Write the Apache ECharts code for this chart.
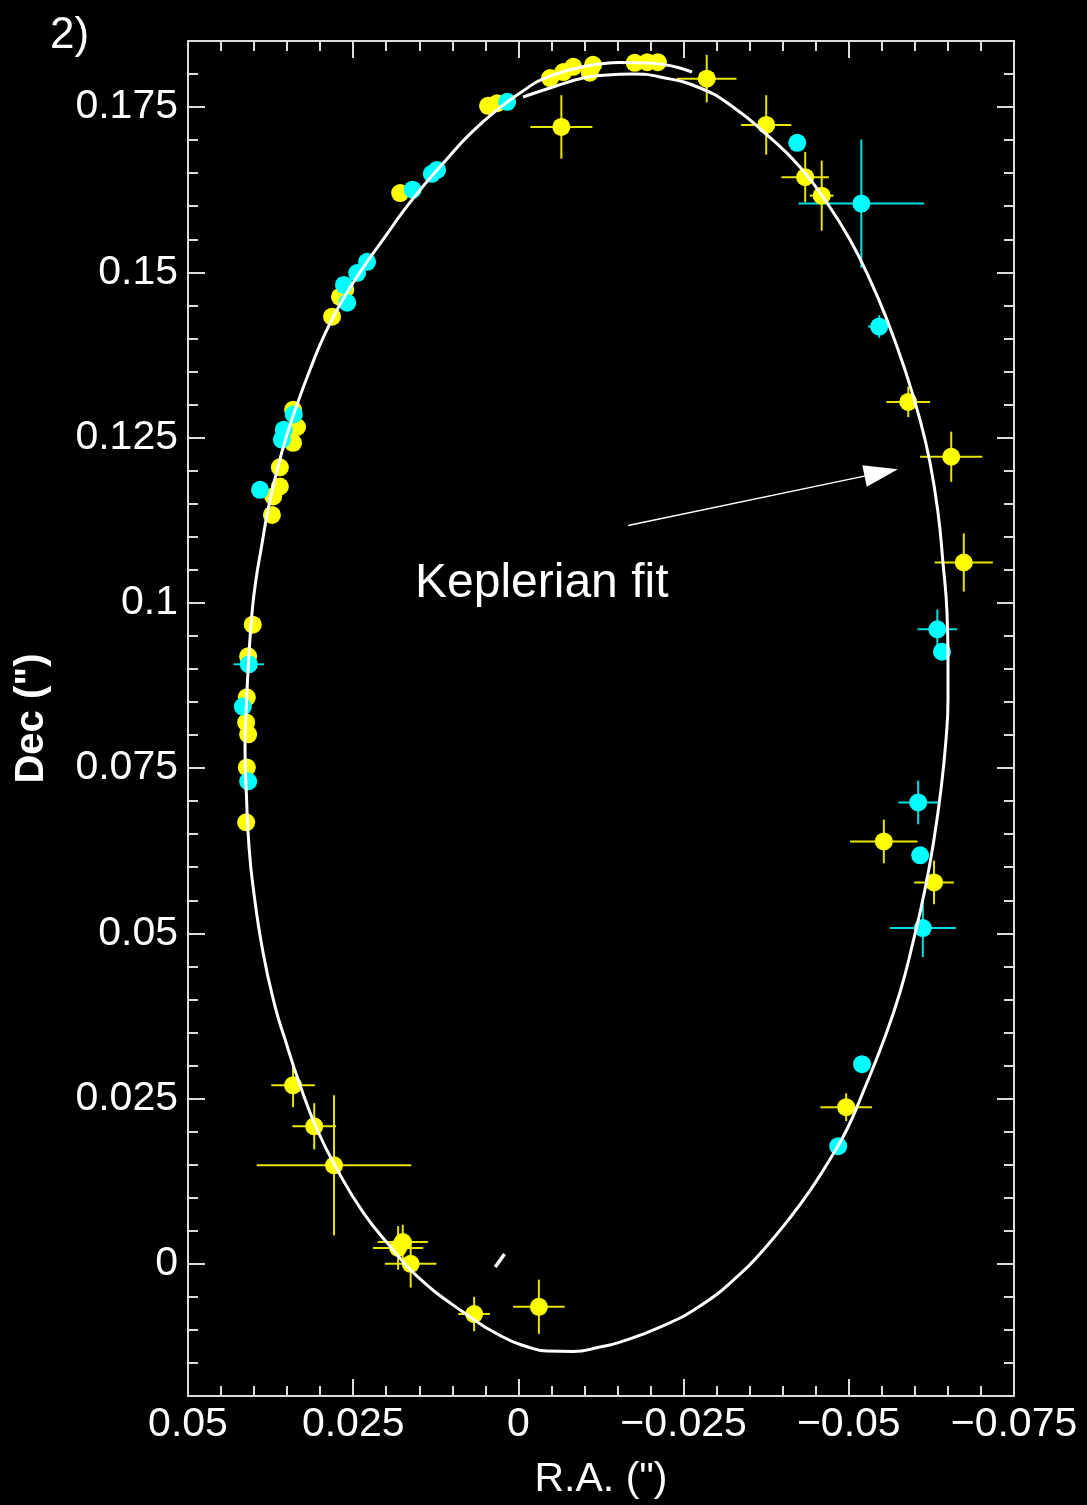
<!DOCTYPE html>
<html>
<head>
<meta charset="utf-8">
<script src="https://cdn.jsdelivr.net/npm/echarts@6/dist/echarts.min.js"></script>
<style>
  html, body { margin: 0; padding: 0; background: #000; }
  #chart { width: 1087px; height: 1505px; }
</style>
</head>
<body>
<div id="chart"></div>
<script>
// ---- axis ticks (arcsec) ----
const raTickValues  = [0.05, 0.025, 0, -0.025, -0.05, -0.075];
const raTickLabels  = ['0.05', '0.025', '0', '\u22120.025', '\u22120.05', '\u22120.075'];
const decTickValues = [0, 0.025, 0.05, 0.075, 0.1, 0.125, 0.15, 0.175];
const decTickLabels = ['0', '0.025', '0.05', '0.075', '0.1', '0.125', '0.15', '0.175'];

// ---- yellow epochs: position and 1-sigma errors (0 = no bar drawn) ----
const yellowRA = [
  -0.0285, -0.0065, -0.0375, -0.0434, -0.0459, -0.0590, -0.0655, -0.0674, -0.0553, -0.0629,
  -0.0496, 0.0341, 0.0309, 0.0279, 0.0175, 0.0182, 0.0163, 0.0067, -0.0031,
  0.0046, 0.0032, -0.0048, -0.0068, -0.0083, -0.0113, -0.0108, -0.0176, -0.0195, -0.0211,
  0.0179, 0.0262, 0.0270, 0.0282, 0.0341, 0.0335, 0.0341, 0.0361, 0.0361, 0.0371, 0.0373,
  0.0402, 0.0409, 0.0411, 0.0412, 0.0409, 0.0411, 0.0412
];
const yellowDec = [
  0.1793, 0.1720, 0.1723, 0.1644, 0.1616, 0.1304, 0.1221, 0.1061, 0.0639, 0.0577,
  0.0237, 0.0270, 0.0208, 0.0149, 0.0033, 0.0024, 0.0000, -0.0076, -0.0065,
  0.1752, 0.1756, 0.1794, 0.1803, 0.1811, 0.1814, 0.1802, 0.1817, 0.1818, 0.1818,
  0.1620, 0.1474, 0.1463, 0.1433, 0.1292, 0.1266, 0.1242, 0.1205, 0.1176, 0.1161, 0.1133,
  0.0967, 0.0919, 0.0857, 0.0819, 0.0801, 0.0751, 0.0668
];
const yellowRAErr = [
  0.0045, 0.0047, 0.0038, 0.0036, 0.0018, 0.0033, 0.0047, 0.0044, 0.0051, 0.0030,
  0.0039, 0.0033, 0.0033, 0.0117, 0.0038, 0.0038, 0.0039, 0.0024, 0.0039,
  0, 0, 0, 0, 0, 0, 0, 0, 0, 0,
  0, 0, 0, 0, 0, 0, 0, 0, 0, 0, 0,
  0, 0, 0, 0, 0, 0, 0
];
const yellowDecErr = [
  0.0036, 0.0048, 0.0045, 0.0038, 0.0053, 0.0023, 0.0038, 0.0044, 0.0033, 0.0033,
  0.0021, 0.0033, 0.0035, 0.0106, 0.0026, 0.0033, 0.0036, 0.0026, 0.0041,
  0, 0, 0, 0, 0, 0, 0, 0, 0, 0,
  0, 0, 0, 0, 0, 0, 0, 0, 0, 0, 0,
  0, 0, 0, 0, 0, 0, 0
];

// ---- cyan epochs ----
const cyanRA = [
  -0.0519, -0.0546, -0.0634, -0.0605, -0.0612, 0.0408, -0.0520, -0.0484,
  -0.0422, -0.0641, -0.0608, 0.0017, 0.0160, 0.0131, 0.0123, 0.0229, 0.0244, 0.0264, 0.0259,
  0.0340, 0.0355, 0.0358, 0.0391, 0.0417, 0.0409
];
const cyanDec = [
  0.1604, 0.1418, 0.0960, 0.0698, 0.0508, 0.0907, 0.0302, 0.0178,
  0.1696, 0.0926, 0.0618, 0.1758, 0.1625, 0.1649, 0.1655, 0.1516, 0.1499, 0.1481, 0.1454,
  0.1285, 0.1262, 0.1247, 0.1171, 0.0843, 0.0730
];
const cyanRAErr = [
  0.0095, 0.0017, 0.0030, 0.0030, 0.0050, 0.0023, 0.0008, 0.0008,
  0, 0, 0, 0, 0, 0, 0, 0, 0, 0, 0,
  0, 0, 0, 0, 0, 0
];
const cyanDecErr = [
  0.0097, 0.0017, 0.0030, 0.0033, 0.0044, 0.0008, 0.0008, 0.0008,
  0, 0, 0, 0, 0, 0, 0, 0, 0, 0, 0,
  0, 0, 0, 0, 0, 0
];

// ---- Keplerian orbit curve (traced clockwise, slightly more than one revolution) ----
const fitRA = [
  -0.00070, -0.00478, -0.00978, -0.01341, -0.01734, -0.02143, -0.02748, -0.03248, -0.03762, -0.04261,
  -0.04670, -0.05018, -0.05321, -0.05578, -0.05850, -0.06077, -0.06229, -0.06350, -0.06425, -0.06486,
  -0.06501, -0.06501, -0.06471, -0.06395, -0.06289, -0.06153, -0.05971, -0.05775, -0.05517, -0.05215,
  -0.04973, -0.04716, -0.04428, -0.04095, -0.03717, -0.03353, -0.02748, -0.02143, -0.01538, -0.01235,
  -0.00826, -0.00433, -0.00100, 0.00233, 0.00838, 0.01535, 0.01943, 0.02352, 0.02745, 0.03048,
  0.03320, 0.03532, 0.03683, 0.03865, 0.04016, 0.04077, 0.04115, 0.04137, 0.04122, 0.04084,
  0.04031, 0.03971, 0.03895, 0.03789, 0.03668, 0.03517, 0.03351, 0.03154, 0.02942, 0.02685,
  0.02352, 0.02019, 0.01716, 0.01413, 0.01081, 0.00732, 0.00324, -0.00070, -0.00372, -0.00887,
  -0.01235, -0.01538, -0.01991, -0.02627
];
const fitDec = [
  0.17653, 0.17789, 0.17941, 0.17986, 0.18001, 0.17956, 0.17789, 0.17502, 0.17079, 0.16595,
  0.16051, 0.15492, 0.14887, 0.14282, 0.13526, 0.12770, 0.12120, 0.11364, 0.10608, 0.09853,
  0.09142, 0.08537, 0.07932, 0.07177, 0.06421, 0.05665, 0.04864, 0.04108, 0.03352, 0.02596,
  0.02036, 0.01583, 0.01129, 0.00676, 0.00222, -0.00156, -0.00639, -0.00957, -0.01184, -0.01259,
  -0.01327, -0.01320, -0.01244, -0.01108, -0.00730, -0.00186, 0.00268, 0.00782, 0.01432, 0.02036,
  0.02747, 0.03397, 0.03896, 0.04712, 0.05710, 0.06315, 0.07071, 0.07827, 0.08341, 0.09097,
  0.09853, 0.10351, 0.10805, 0.11410, 0.11939, 0.12498, 0.12997, 0.13526, 0.14040, 0.14539,
  0.15068, 0.15537, 0.15960, 0.16338, 0.16716, 0.17094, 0.17457, 0.17744, 0.17926, 0.18092,
  0.18152, 0.18175, 0.18167, 0.18031
];

// short white marker near the origin
const markRA  = [0.0035, 0.0021];
const markDec = [-0.0005, 0.0015];

// annotation arrow (tail, head)
const arrowRA  = [-0.0166, -0.0549];
const arrowDec = [0.1117, 0.1197];

// ---- helpers ----
const FONT = "'Liberation Sans', Arial, Helvetica, sans-serif";
const AXIS_COLOR = '#dcdcdc';

function zip(a, b, c, d) {
  return a.map((v, i) => c ? [v, b[i], c[i], d[i]] : [v, b[i]]);
}
function labelFor(values, labels) {
  return function (v) {
    for (let i = 0; i < values.length; i++) {
      if (Math.abs(values[i] - v) < 1e-9) return labels[i];
    }
    return '';
  };
}
function errorBars(color) {
  return function (params, api) {
    const x = api.value(0), y = api.value(1), ex = api.value(2), ey = api.value(3);
    const children = [];
    if (ex > 0) {
      const a = api.coord([x - ex, y]), b = api.coord([x + ex, y]);
      children.push({ type: 'line', shape: { x1: a[0], y1: a[1], x2: b[0], y2: b[1] },
        style: { stroke: color, lineWidth: 2 } });
    }
    if (ey > 0) {
      const a = api.coord([x, y - ey]), b = api.coord([x, y + ey]);
      children.push({ type: 'line', shape: { x1: a[0], y1: a[1], x2: b[0], y2: b[1] },
        style: { stroke: color, lineWidth: 2 } });
    }
    return { type: 'group', children: children };
  };
}

const tickLine = { color: AXIS_COLOR, width: 2 };

function raAxis(pos, showLabels) {
  return {
    type: 'value', position: pos, min: -0.075, max: 0.05, interval: 0.025, inverse: true,
    axisLine: { show: true, onZero: false, lineStyle: tickLine },
    axisTick: { show: true, inside: true, length: 17, lineStyle: tickLine },
    minorTick: { show: true, splitNumber: 5, length: 10, lineStyle: tickLine },
    splitLine: { show: false }, minorSplitLine: { show: false },
    axisLabel: { show: showLabels, color: '#fff', fontSize: 41, fontFamily: FONT, margin: 8,
      formatter: labelFor(raTickValues, raTickLabels) },
    name: showLabels ? 'R.A. (")' : '', nameLocation: 'middle', nameGap: 63,
    nameTextStyle: { color: '#fff', fontSize: 41, fontFamily: FONT }
  };
}
function decMajor(pos, showLabels) {
  return {
    type: 'value', position: pos, min: -0.02, max: 0.185,
    axisLine: { show: true, onZero: false, lineStyle: tickLine },
    axisTick: { show: true, inside: true, length: 17, lineStyle: tickLine, customValues: decTickValues },
    splitLine: { show: false },
    axisLabel: { show: showLabels, color: '#fff', fontSize: 41, fontFamily: FONT, margin: 10,
      customValues: decTickValues, formatter: labelFor(decTickValues, decTickLabels) },
    name: showLabels ? 'Dec (")' : '', nameLocation: 'middle', nameGap: 136, nameRotate: 90,
    nameTextStyle: { color: '#fff', fontSize: 40, fontWeight: 'bold', fontFamily: FONT }
  };
}
function decMinor(pos) {
  return {
    type: 'value', position: pos, min: -0.02, max: 0.185, interval: 0.005,
    axisLine: { show: false, onZero: false },
    axisTick: { show: true, inside: true, length: 10, lineStyle: tickLine },
    splitLine: { show: false },
    axisLabel: { show: false }
  };
}

const chart = echarts.init(document.getElementById('chart'), null, { renderer: 'canvas' });

chart.setOption({
  backgroundColor: '#000',
  animation: false,
  grid: { left: 188, right: 73, top: 41, bottom: 108, containLabel: false },
  xAxis: [raAxis('bottom', true), raAxis('top', false)],
  yAxis: [decMajor('left', true), decMinor('left'), decMajor('right', false), decMinor('right')],
  graphic: [
    { type: 'text', left: 50, top: 14, silent: true,
      style: { text: '2)', fill: '#fff', fontSize: 44, fontFamily: FONT } },
    { type: 'text', left: 415, top: 560, silent: true,
      style: { text: 'Keplerian fit', fill: '#fff', fontSize: 48, fontFamily: FONT } }
  ],
  series: [
    { name: 'yellow errors', type: 'custom', xAxisIndex: 0, yAxisIndex: 0,
      renderItem: errorBars('#e6e600'), encode: { x: 0, y: 1 },
      data: zip(yellowRA, yellowDec, yellowRAErr, yellowDecErr), silent: true },
    { name: 'yellow', type: 'scatter', xAxisIndex: 0, yAxisIndex: 0,
      symbol: 'circle', symbolSize: 18, itemStyle: { color: '#ffff00', opacity: 1 },
      data: zip(yellowRA, yellowDec), silent: true },
    { name: 'cyan errors', type: 'custom', xAxisIndex: 0, yAxisIndex: 0,
      renderItem: errorBars('#00e0e0'), encode: { x: 0, y: 1 },
      data: zip(cyanRA, cyanDec, cyanRAErr, cyanDecErr), silent: true },
    { name: 'cyan', type: 'scatter', xAxisIndex: 0, yAxisIndex: 0,
      symbol: 'circle', symbolSize: 18, itemStyle: { color: '#00ffff', opacity: 1 },
      data: zip(cyanRA, cyanDec), silent: true },
    { name: 'Keplerian fit', type: 'line', xAxisIndex: 0, yAxisIndex: 0,
      data: zip(fitRA, fitDec), showSymbol: false, symbol: 'none', smooth: 0.5,
      lineStyle: { color: '#ffffff', width: 3 }, silent: true },
    { name: 'marker', type: 'line', xAxisIndex: 0, yAxisIndex: 0,
      data: zip(markRA, markDec), symbol: 'none',
      lineStyle: { color: '#ffffff', width: 3.5 }, silent: true },
    { name: 'arrow', type: 'line', xAxisIndex: 0, yAxisIndex: 0, data: [], silent: true,
      markLine: {
        silent: true, symbol: ['none', 'triangle'], symbolSize: [22, 34],
        label: { show: false },
        lineStyle: { color: '#ffffff', width: 1.5, type: 'solid' },
        data: [[{ coord: [arrowRA[0], arrowDec[0]] }, { coord: [arrowRA[1], arrowDec[1]] }]]
      } }
  ]
});
</script>
</body>
</html>
